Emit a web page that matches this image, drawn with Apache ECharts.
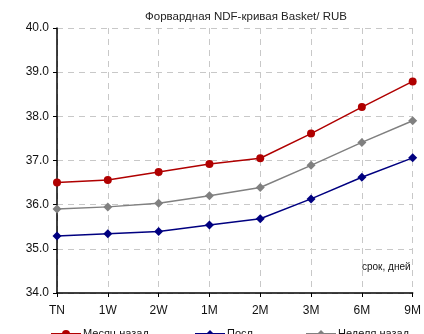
<!DOCTYPE html>
<html><head><meta charset="utf-8">
<script src="https://cdn.jsdelivr.net/npm/echarts@6/dist/echarts.min.js"></script>
<style>html,body{margin:0;padding:0;background:#fff}#c{width:424px;height:334px}</style>
</head><body><div id="c"></div>
<script>
const categories = ['TN','1W','2W','1M','2M','3M','6M','9M'];
const monthAgo = [36.50, 36.56, 36.74, 36.92, 37.05, 37.61, 38.21, 38.79];
const latest   = [35.29, 35.34, 35.39, 35.54, 35.68, 36.13, 36.62, 37.06];
const weekAgo  = [35.90, 35.95, 36.03, 36.20, 36.39, 36.89, 37.41, 37.90];
const seriesNames = ['Месяц назад', 'Посл.', 'Неделя назад'];
const titleText = 'Форвардная NDF-кривая Basket/ RUB';
const axisNote = 'срок, дней';

const chart = echarts.init(document.getElementById('c'), null, {renderer:'canvas'});
const font = 'Liberation Sans, Arial, sans-serif';
const legendLefts = [45, 189, 300];
chart.setOption({
  animation:false,
  title:{text:titleText,left:241,textAlign:'center',top:6,textStyle:{fontFamily:font,fontSize:11.5,fontWeight:'normal',color:'#222'}},
  grid:{left:57,right:10,top:28,bottom:41},
  xAxis:{type:'category',data:categories,boundaryGap:false,
    axisLine:{lineStyle:{color:'#000',width:1.5}},
    axisTick:{show:true,length:4,lineStyle:{color:'#000'}},
    axisLabel:{fontFamily:font,fontSize:12,color:'#111',margin:12},
    splitLine:{show:true,lineStyle:{color:'#c8c8c8',type:[6,5]}}},
  yAxis:{type:'value',min:34,max:40,interval:1,
    axisLine:{show:true,lineStyle:{color:'#000',width:1.5}},
    axisTick:{show:true,length:4,lineStyle:{color:'#000'}},
    axisLabel:{fontFamily:font,fontSize:12,color:'#111',margin:8,formatter:v=>v.toFixed(1)},
    splitLine:{show:true,lineStyle:{color:'#c8c8c8',type:[6,5]}}},
  legend:seriesNames.map((n,i)=>({top:323.5,left:legendLefts[i],itemWidth:30,itemHeight:10,
    textStyle:{fontFamily:font,fontSize:11,color:'#111',padding:[0,0,0,-3]},
    data:[n]})),
  graphic:[{type:'text',left:362,top:262,style:{text:axisNote,font:'10px '+font,fill:'#111'}}],
  series:[
    {name:seriesNames[0],type:'line',data:monthAgo,symbol:'circle',symbolSize:8,
      itemStyle:{color:'#b00000'},lineStyle:{color:'#b00000',width:1.5}},
    {name:seriesNames[1],type:'line',data:latest,symbol:'diamond',symbolSize:9,
      itemStyle:{color:'#000080'},lineStyle:{color:'#000080',width:1.5}},
    {name:seriesNames[2],type:'line',data:weekAgo,symbol:'diamond',symbolSize:9,
      itemStyle:{color:'#808080'},lineStyle:{color:'#808080',width:1.5}}
  ]
});
</script></body></html>
